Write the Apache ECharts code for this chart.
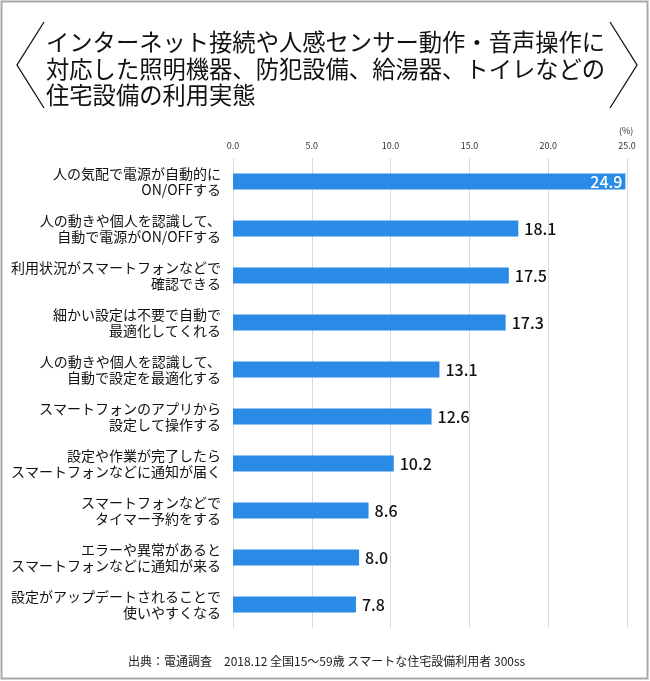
<!DOCTYPE html>
<html><head><meta charset="utf-8">
<script src="https://cdn.jsdelivr.net/npm/echarts@6/dist/echarts.min.js"></script>
<style>html,body{margin:0;padding:0;background:#fff}#c{width:650px;height:681px}</style>
</head><body><div id="c"></div>
<script>
const categories = [
  "人の気配で電源が自動的に\nON/OFFする",
  "人の動きや個人を認識して、\n自動で電源がON/OFFする",
  "利用状況がスマートフォンなどで\n確認できる",
  "細かい設定は不要で自動で\n最適化してくれる",
  "人の動きや個人を認識して、\n自動で設定を最適化する",
  "スマートフォンのアプリから\n設定して操作する",
  "設定や作業が完了したら\nスマートフォンなどに通知が届く",
  "スマートフォンなどで\nタイマー予約をする",
  "エラーや異常があると\nスマートフォンなどに通知が来る",
  "設定がアップデートされることで\n使いやすくなる"
];
const values = [24.9, 18.1, 17.5, 17.3, 13.1, 12.6, 10.2, 8.6, 8.0, 7.8];
const titleLines = [
  "インターネット接続や人感センサー動作・音声操作に",
  "対応した照明機器、防犯設備、給湯器、トイレなどの",
  "住宅設備の利用実態"
];
const footer = "出典：電通調査　2018.12 全国15～59歳 スマートな住宅設備利用者 300ss";

const font = '"Noto Sans CJK JP", "Noto Sans", sans-serif';
const chart = echarts.init(document.getElementById('c'), null, {renderer: 'canvas'});
const data = values.map((v, i) => i === 0 ? {
  value: v,
  label: {position: 'insideRight', color: '#fff', distance: 3}
} : v);

chart.setOption({
  animation: false,
  textStyle: {fontFamily: font},
  grid: {left: 233, right: 23, top: 158, height: 470},
  xAxis: {
    type: 'value', position: 'top', min: 0, max: 25, interval: 5,
    axisLine: {show: false}, axisTick: {show: false},
    axisLabel: {formatter: v => v.toFixed(1), fontSize: 9, color: '#333', margin: 8, fontFamily: font},
    splitLine: {lineStyle: {color: '#d9d9d9', width: 1}}
  },
  yAxis: {
    type: 'category', data: categories, inverse: true,
    axisLabel: {fontSize: 14, color: '#111', lineHeight: 16, margin: 12, align: 'right', fontFamily: font},
    axisLine: {show: false}, axisTick: {show: false}
  },
  series: [{
    type: 'bar', data: data, barWidth: 16,
    itemStyle: {color: '#2a8be6'},
    label: {show: true, position: 'right', distance: 6, fontSize: 16, fontWeight: 500, color: '#111', fontFamily: font,
      formatter: p => p.value.toFixed(1)}
  }],
  graphic: [
    {type: 'rect', shape: {x: 1.5, y: 1.5, width: 646, height: 677}, style: {fill: 'none', stroke: '#a8a8a8', lineWidth: 2}, silent: true},
    {type: 'polyline', shape: {points: [[44, 22], [17, 65], [44, 108]]}, style: {stroke: '#111', lineWidth: 1.3, fill: 'none'}},
    {type: 'polyline', shape: {points: [[610, 22], [637, 65], [610, 108]]}, style: {stroke: '#111', lineWidth: 1.3, fill: 'none'}},
    ...titleLines.map((t, i) => ({
      type: 'text', left: 46, top: 31 + i * 26.5,
      style: {text: t, font: '23.3px ' + font, fill: '#111'}
    })),
    {type: 'text', left: 619, top: 126, style: {text: '(%)', font: '9px ' + font, fill: '#333'}},
    {type: 'text', left: 128, top: 655, style: {text: footer, font: '12px ' + font, fill: '#222'}}
  ]
});
</script></body></html>
